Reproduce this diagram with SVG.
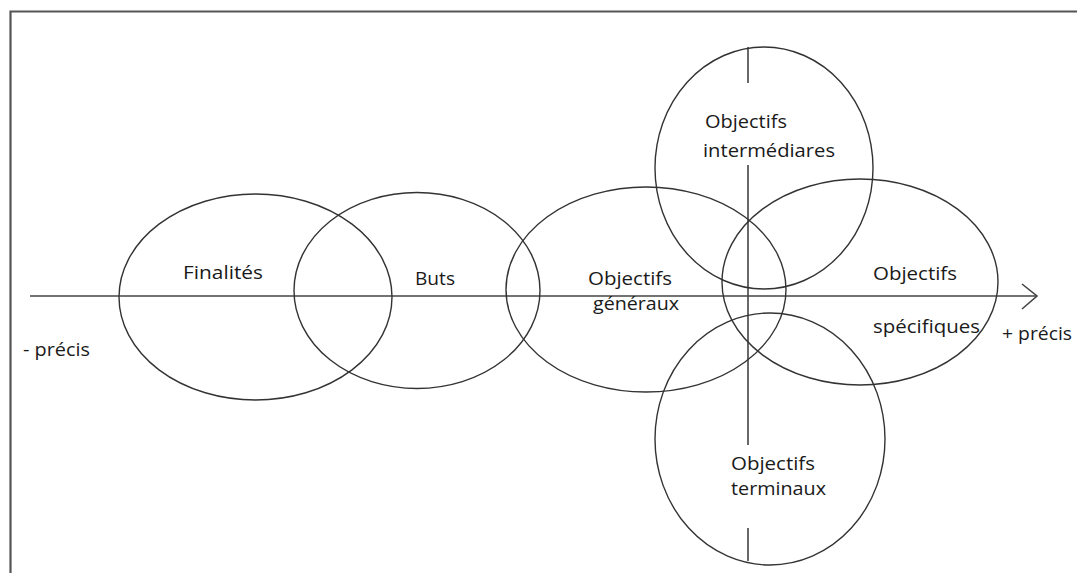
<svg xmlns="http://www.w3.org/2000/svg" width="1077" height="573" viewBox="0 0 1077 573">
<style>
.e{fill:none;stroke:#333;stroke-width:1.4}
.ax{fill:none;stroke:#444;stroke-width:1.6}
.t{font-family:"Open Sans","Liberation Sans",sans-serif;font-size:18px;fill:#1a1a1a}
</style>
<rect width="1077" height="573" fill="#fff"/>
<path d="M10.5,573 V11.5 H1077" fill="none" stroke="#555" stroke-width="2.2"/>
<g id="connectors">
<path class="ax" d="M30,296 H1037"/>
<path class="ax" d="M1022,284 L1037,296 L1022,309"/>
<path class="ax" d="M748,47 V83 M748,165 V445 M748,528 V561"/>
</g>
<g id="finalites">
<ellipse class="e" cx="255.5" cy="297" rx="136.5" ry="103"/>
<text class="t" x="183" y="279" textLength="80" lengthAdjust="spacingAndGlyphs">Finalités</text>
</g>
<g id="buts">
<ellipse class="e" cx="417" cy="290.5" rx="123" ry="98"/>
<text class="t" x="415" y="285" textLength="40" lengthAdjust="spacingAndGlyphs">Buts</text>
</g>
<g id="generaux">
<ellipse class="e" cx="646" cy="289.5" rx="140" ry="102.5"/>
<text class="t" x="588" y="285" textLength="84" lengthAdjust="spacingAndGlyphs">Objectifs</text>
<text class="t" x="593" y="310" textLength="86" lengthAdjust="spacingAndGlyphs">généraux</text>
</g>
<g id="intermediaires">
<ellipse class="e" cx="764" cy="168" rx="109" ry="121"/>
<text class="t" x="705" y="128" textLength="82" lengthAdjust="spacingAndGlyphs">Objectifs</text>
<text class="t" x="703" y="157" textLength="132" lengthAdjust="spacingAndGlyphs">intermédiares</text>
</g>
<g id="specifiques">
<ellipse class="e" cx="860" cy="282" rx="138" ry="103"/>
<text class="t" x="873" y="280" textLength="84" lengthAdjust="spacingAndGlyphs">Objectifs</text>
<text class="t" x="873" y="333" textLength="107" lengthAdjust="spacingAndGlyphs">spécifiques</text>
</g>
<g id="terminaux">
<ellipse class="e" cx="770" cy="439" rx="115" ry="126"/>
<text class="t" x="731" y="470" textLength="84" lengthAdjust="spacingAndGlyphs">Objectifs</text>
<text class="t" x="731" y="495" textLength="95" lengthAdjust="spacingAndGlyphs">terminaux</text>
</g>
<g id="labels">
<text class="t" x="23" y="356" textLength="67" lengthAdjust="spacingAndGlyphs">- précis</text>
<text class="t" x="1002" y="340" textLength="70" lengthAdjust="spacingAndGlyphs">+ précis</text>
</g>
</svg>
